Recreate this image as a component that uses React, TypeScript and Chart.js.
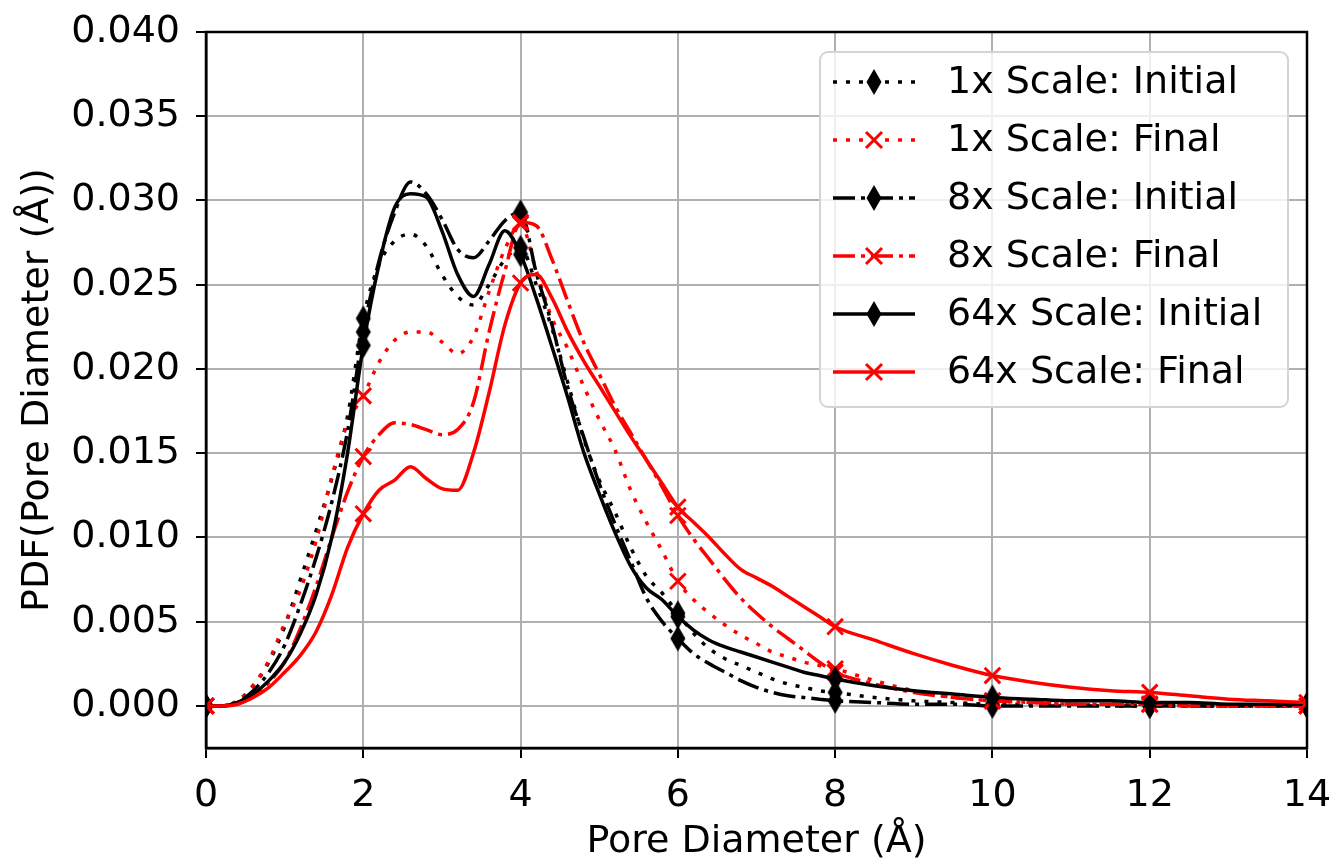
import React, { useEffect, useRef } from "react";
import { Chart, registerables } from "chart.js";

Chart.register(...registerables);

const FONT = '"DejaVu Sans", "Liberation Sans", sans-serif';

// Pore diameter (Å) sample positions
const poreDiameter = [
  0, 0.2, 0.4, 0.6, 0.8, 1.0, 1.2, 1.4, 1.6, 1.8, 2.0, 2.2, 2.4, 2.6, 2.8, 3.0,
  3.2, 3.4, 3.6, 3.8, 4.0, 4.2, 4.4, 4.6, 4.8, 5.0, 5.2, 5.4, 5.6, 5.8, 6.0, 6.2,
  6.4, 6.6, 6.8, 7.0, 7.2, 7.4, 7.6, 7.8, 8.0, 8.5, 9.0, 9.5, 10.0, 10.5, 11.0,
  11.5, 12.0, 12.5, 13.0, 13.5, 14.0,
];

const initial1x = [
  0, 0, 0.0003, 0.0012, 0.0026, 0.0047, 0.0075, 0.0104, 0.0135, 0.0172, 0.023,
  0.0262, 0.0276, 0.028, 0.0273, 0.0256, 0.0243, 0.0238, 0.025, 0.0265, 0.0272,
  0.025, 0.0224, 0.0192, 0.0159, 0.0134, 0.0115, 0.0094, 0.0077, 0.0067, 0.0055,
  0.0043, 0.0034, 0.0028, 0.0024, 0.002, 0.0016, 0.0013, 0.0011, 0.0009, 0.0008,
  0.0005, 0.0003, 0.0002, 0.0001, 0.0001, 0.0001, 0, 0, 0, 0, 0, 0,
];

const final1x = [
  0, 0, 0.0003, 0.0012, 0.0027, 0.0049, 0.0069, 0.0098, 0.0136, 0.0168, 0.0184,
  0.0204, 0.0217, 0.0222, 0.0222, 0.0216, 0.0209, 0.0219, 0.0246, 0.0271, 0.0286,
  0.0258, 0.023, 0.0212, 0.019, 0.017, 0.0152, 0.0128, 0.0109, 0.0092, 0.0074,
  0.0063, 0.0055, 0.0048, 0.0042, 0.0037, 0.0032, 0.0029, 0.0026, 0.0024, 0.0022,
  0.0015, 0.0009, 0.0005, 0.0003, 0.0002, 0.0001, 0.0001, 0.0001, 0, 0, 0, 0,
];

const initial8x = [
  0, 0, 0.0002, 0.0009, 0.002, 0.0036, 0.006, 0.0088, 0.0121, 0.0163, 0.0222,
  0.0264, 0.0293, 0.0311, 0.0304, 0.0289, 0.0271, 0.0266, 0.0276, 0.0288, 0.0293,
  0.0257, 0.0226, 0.0189, 0.016, 0.0132, 0.0108, 0.0086, 0.0064, 0.005, 0.004,
  0.0031, 0.0025, 0.002, 0.0015, 0.0011, 0.0008, 0.0006, 0.0005, 0.0004, 0.0003,
  0.0002, 0.0001, 0.0001, 0, 0, 0, 0, 0, 0, 0, 0, 0,
];

const final8x = [
  0, 0, 0.0002, 0.0006, 0.0014, 0.0026, 0.0046, 0.0071, 0.01, 0.0127, 0.0148,
  0.0161, 0.0168, 0.0167, 0.0164, 0.0161, 0.0164, 0.018, 0.0222, 0.0258, 0.0287,
  0.0285, 0.0265, 0.024, 0.0216, 0.0197, 0.0178, 0.0162, 0.0146, 0.013, 0.0113,
  0.0099, 0.0087, 0.0075, 0.0064, 0.0055, 0.0047, 0.004, 0.0033, 0.0026, 0.002,
  0.0013, 0.0008, 0.0005, 0.0003, 0.0002, 0.0001, 0.0001, 0.0001, 0, 0, 0, 0,
];

const initial64x = [
  0, 0, 0.0002, 0.0007, 0.0015, 0.0026, 0.0043, 0.0066, 0.01, 0.015, 0.0214,
  0.0262, 0.0296, 0.0304, 0.0302, 0.0282, 0.0256, 0.0243, 0.0262, 0.0282, 0.0268,
  0.0242, 0.0213, 0.0183, 0.0151, 0.0126, 0.0103, 0.0083, 0.007, 0.0063, 0.0053,
  0.0045, 0.0039, 0.0035, 0.0032, 0.0029, 0.0026, 0.0023, 0.002, 0.0018, 0.0016,
  0.0012, 0.0009, 0.0007, 0.0005, 0.0004, 0.0003, 0.0003, 0.0002, 0.0002, 0.0001,
  0.0001, 0.0001,
];

const final64x = [
  0, 0, 0.0001, 0.0005, 0.0011, 0.002, 0.003, 0.0044, 0.0066, 0.0094, 0.0114,
  0.0128, 0.0134, 0.0142, 0.0135, 0.0129, 0.0128, 0.015, 0.0186, 0.0226, 0.0251,
  0.0256, 0.0242, 0.0222, 0.0205, 0.019, 0.0175, 0.016, 0.0146, 0.0132, 0.0118,
  0.0109, 0.01, 0.009, 0.0081, 0.0076, 0.0071, 0.0065, 0.0059, 0.0053, 0.0047,
  0.0039, 0.0031, 0.0024, 0.0018, 0.0014, 0.0011, 0.0009, 0.0008, 0.0006, 0.0004,
  0.0003, 0.0002,
];

const seriesLabels = [
  "1x Scale: Initial",
  "1x Scale: Final",
  "8x Scale: Initial",
  "8x Scale: Final",
  "64x Scale: Initial",
  "64x Scale: Final",
];
const seriesValues = [initial1x, final1x, initial8x, final8x, initial64x, final64x];

const xTickValues = [0, 2, 4, 6, 8, 10, 12, 14];
const yTickValues = [0, 0.005, 0.01, 0.015, 0.02, 0.025, 0.03, 0.035, 0.04];

const RED = "#ff0000";
const BLACK = "#000000";
const DOT = [4, 9];
const DASHDOT = [22, 6, 4, 6];
const seriesStyles = [
  { color: BLACK, dash: DOT, marker: "d" },
  { color: RED, dash: DOT, marker: "x" },
  { color: BLACK, dash: DASHDOT, marker: "d" },
  { color: RED, dash: DASHDOT, marker: "x" },
  { color: BLACK, dash: [] as number[], marker: "d" },
  { color: RED, dash: [] as number[], marker: "x" },
];

function makeDiamond(): HTMLCanvasElement {
  const c = document.createElement("canvas");
  c.width = 18;
  c.height = 28;
  const g = c.getContext("2d")!;
  g.fillStyle = BLACK;
  g.beginPath();
  g.moveTo(9, 1);
  g.lineTo(16.5, 14);
  g.lineTo(9, 27);
  g.lineTo(1.5, 14);
  g.closePath();
  g.fill();
  return c;
}

function isMarkerX(x: number) {
  return Math.abs(x / 2 - Math.round(x / 2)) < 1e-6;
}

export default function App() {
  const canvasRef = useRef<HTMLCanvasElement | null>(null);

  useEffect(() => {
    document.body.style.margin = "0";
    const canvas = canvasRef.current!;
    const diamond = makeDiamond();

    const drawX = (ctx: CanvasRenderingContext2D, cx: number, cy: number, color: string) => {
      const r = 8;
      ctx.save();
      ctx.setLineDash([]);
      ctx.strokeStyle = color;
      ctx.lineWidth = 3;
      ctx.beginPath();
      ctx.moveTo(cx - r, cy - r);
      ctx.lineTo(cx + r, cy + r);
      ctx.moveTo(cx - r, cy + r);
      ctx.lineTo(cx + r, cy - r);
      ctx.stroke();
      ctx.restore();
    };

    const framePlugin = {
      id: "frame",
      afterDatasetsDraw(chart: any) {
        const { ctx, chartArea } = chart;
        ctx.save();
        ctx.strokeStyle = BLACK;
        ctx.lineWidth = 2.5;
        ctx.setLineDash([]);
        ctx.strokeRect(chartArea.left, chartArea.top, chartArea.right - chartArea.left, chartArea.bottom - chartArea.top);
        ctx.restore();
      },
    };

    const legendPlugin = {
      id: "mplLegend",
      afterDraw(chart: any) {
        const { ctx, chartArea } = chart;
        const w = 468;
        const h = 355;
        const left = chartArea.right - 19 - w;
        const top = chartArea.top + 20;
        const r = 8;
        ctx.save();
        ctx.beginPath();
        ctx.moveTo(left + r, top);
        ctx.lineTo(left + w - r, top);
        ctx.arcTo(left + w, top, left + w, top + r, r);
        ctx.lineTo(left + w, top + h - r);
        ctx.arcTo(left + w, top + h, left + w - r, top + h, r);
        ctx.lineTo(left + r, top + h);
        ctx.arcTo(left, top + h, left, top + h - r, r);
        ctx.lineTo(left, top + r);
        ctx.arcTo(left, top, left + r, top, r);
        ctx.closePath();
        ctx.fillStyle = "rgba(255,255,255,0.8)";
        ctx.fill();
        ctx.strokeStyle = "#d4d4d4";
        ctx.lineWidth = 2;
        ctx.stroke();

        seriesLabels.forEach((label, i) => {
          const st = seriesStyles[i];
          const cy = top + 30 + i * 58;
          ctx.setLineDash(st.dash);
          ctx.lineDashOffset = 0;
          ctx.strokeStyle = st.color;
          ctx.lineWidth = 3.5;
          ctx.beginPath();
          ctx.moveTo(left + 13, cy);
          ctx.lineTo(left + 95, cy);
          ctx.stroke();
          ctx.setLineDash([]);
          const mx = left + 54;
          if (st.marker === "d") {
            ctx.drawImage(diamond, mx - diamond.width / 2, cy - diamond.height / 2);
          } else {
            drawX(ctx, mx, cy, st.color);
          }
          ctx.fillStyle = BLACK;
          ctx.font = `38px ${FONT}`;
          ctx.textAlign = "left";
          ctx.textBaseline = "middle";
          ctx.fillText(label, left + 127, cy + 1);
        });
        ctx.restore();
      },
    };

    const datasets = seriesValues.map((vals, i) => {
      const st = seriesStyles[i];
      return {
        label: seriesLabels[i],
        data: poreDiameter.map((x, k) => ({ x, y: vals[k] })),
        borderColor: st.color,
        backgroundColor: st.color,
        borderWidth: 3.5,
        borderDash: st.dash,
        borderCapStyle: "butt" as const,
        cubicInterpolationMode: "monotone" as const,
        fill: false,
        pointStyle: st.marker === "d" ? (diamond as any) : ("crossRot" as const),
        pointRadius: (c: any) => (isMarkerX(poreDiameter[c.dataIndex]) ? 11 : 0),
        pointHoverRadius: 0,
        pointBorderColor: st.color,
        pointBackgroundColor: st.color,
        pointBorderWidth: 3,
        order: seriesValues.length - i,
      };
    });

    const chart = new Chart(canvas, {
      type: "line",
      data: { datasets },
      plugins: [framePlugin, legendPlugin],
      options: {
        animation: false,
        responsive: false,
        maintainAspectRatio: false,
        events: [],
        layout: { padding: { left: 0, right: 30, top: 32, bottom: 0 } },
        plugins: {
          legend: { display: false },
          tooltip: { enabled: false },
          title: { display: false },
        },
        scales: {
          x: {
            type: "linear",
            min: 0,
            max: 14,
            afterBuildTicks: (s: any) => {
              s.ticks = xTickValues.map((v) => ({ value: v }));
            },
            afterFit: (s: any) => {
              s.height = 117;
              s.paddingLeft = 0;
              s.paddingRight = 0;
            },
            grid: { color: "#b0b0b0", lineWidth: 2, tickColor: BLACK, tickLength: 10, drawTicks: true },
            border: { color: BLACK, width: 2.5 },
            ticks: {
              color: BLACK,
              font: { family: FONT, size: 38 },
              padding: 15,
              maxRotation: 0,
              autoSkip: false,
              callback: (v: any) => String(v),
            },
            title: {
              display: true,
              text: "Pore Diameter (Å)",
              color: BLACK,
              font: { family: FONT, size: 38 },
              padding: { top: 0, bottom: 0 },
            },
          },
          y: {
            type: "linear",
            min: -0.0025,
            max: 0.04,
            afterBuildTicks: (s: any) => {
              s.ticks = yTickValues.map((v) => ({ value: v }));
            },
            afterFit: (s: any) => {
              s.width = 206;
              s.paddingTop = 0;
              s.paddingBottom = 0;
            },
            grid: { color: "#b0b0b0", lineWidth: 2, tickColor: BLACK, tickLength: 10, drawTicks: true },
            border: { color: BLACK, width: 2.5 },
            ticks: {
              color: BLACK,
              font: { family: FONT, size: 38 },
              padding: 16,
              autoSkip: false,
              callback: (v: any) => Number(v).toFixed(3),
            },
            title: {
              display: true,
              text: "PDF(Pore Diameter (Å))",
              color: BLACK,
              font: { family: FONT, size: 38 },
              padding: { top: 15, bottom: 0 },
            },
          },
        },
      },
    } as any);

    return () => {
      chart.destroy();
    };
  }, []);

  return (
    <div style={{ width: 1337, height: 865, background: "#ffffff" }}>
      <canvas ref={canvasRef} width={1337} height={865} style={{ display: "block", width: 1337, height: 865 }} />
    </div>
  );
}
